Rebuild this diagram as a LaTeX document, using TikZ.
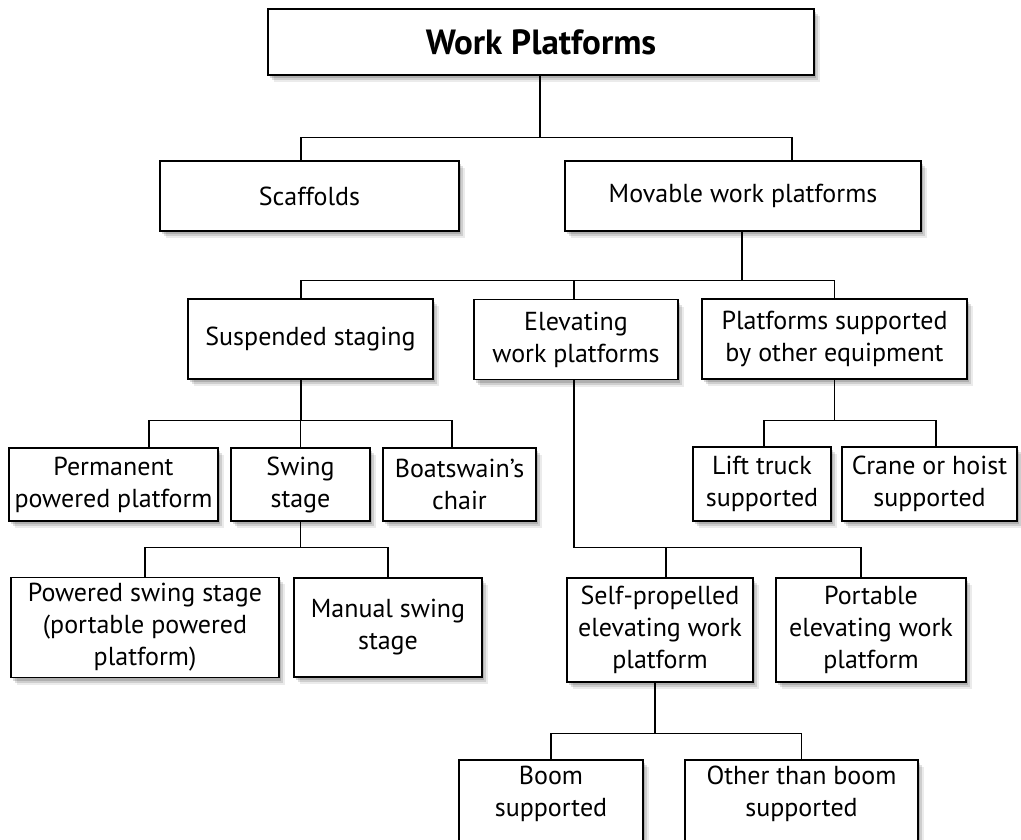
\documentclass[tikz,border=0pt]{standalone}
\usepackage{fontspec}
\setmainfont{PT Sans}
\usetikzlibrary{shadows}
\tikzstyle{box} = [rectangle, draw=black, line width=1.6pt, fill=white, align=center, inner xsep=2pt, inner ysep=6pt, font=\fontsize{26}{32}\selectfont, drop shadow={shadow xshift=6pt, shadow yshift=-7pt, opacity=0.08, fill=black}, drop shadow={shadow xshift=4pt, shadow yshift=-5pt, opacity=0.12, fill=black}, drop shadow={shadow xshift=2pt, shadow yshift=-3pt, opacity=0.15, fill=black}]
\tikzstyle{link} = [line width=1.3pt]

\begin{document}
\begin{tikzpicture}[x=1pt, y=-1pt]
	\useasboundingbox (0,0) rectangle (1021,839);
	
	% Nodes
	\node (wp) [box, minimum width=546pt, minimum height=66pt, font=\fontsize{35}{42}\selectfont\bfseries] at (541,42) {Work Platforms};
	\node (scaf) [box, minimum width=299pt, minimum height=70pt] at (309.5,196) {Scaffolds};
	\node (mov) [box, minimum width=356pt, minimum height=70pt] at (743,196) {Movable work platforms};
	\node (susp) [box, minimum width=245pt, minimum height=80pt] at (310.5,339) {Suspended staging};
	\node (elev) [box, minimum width=204pt, minimum height=80pt] at (576,339.5) {Elevating\\work platforms};
	\node (other) [box, minimum width=265pt, minimum height=80pt] at (834.5,339) {Platforms supported\\by other equipment};
	\node (perm) [box, minimum width=209pt, minimum height=73pt] at (113.5,484.5) {Permanent\\powered platform};
	\node (swing) [box, minimum width=139pt, minimum height=73pt] at (300.5,484.5) {Swing\\stage};
	\node (boat) [box, minimum width=153pt, minimum height=73pt] at (459.5,484.5) {Boatswain’s\\chair};
	\node (lift) [box, minimum width=138pt, minimum height=74pt] at (762,484) {Lift truck\\supported};
	\node (crane) [box, minimum width=175pt, minimum height=74pt] at (929.5,484) {Crane or hoist\\supported};
	\node (pss) [box, minimum width=268pt, minimum height=99pt] at (145,627.5) {Powered swing stage\\(portable powered\\platform)};
	\node (mss) [box, minimum width=188pt, minimum height=99pt] at (388,627.5) {Manual swing\\stage};
	\node (spe) [box, minimum width=186pt, minimum height=104pt] at (660,630) {Self-propelled\\elevating work\\platform};
	\node (pew) [box, minimum width=190pt, minimum height=104pt] at (871,630) {Portable\\elevating work\\platform};
	\node (boom) [box, anchor=north, minimum width=184pt, text depth=70pt] at (551,759) {Boom\\supported};
	\node (otb) [box, anchor=north, minimum width=233pt, text depth=70pt] at (801.5,759) {Other than boom\\supported};
	
	% Lines
	\draw [link] ([xshift=-1pt]wp.south) -- ++(0,62) -| ([xshift=-8.5pt]scaf.north);
	\draw [link] ([xshift=-1pt]wp.south) -- ++(0,62) -| ([xshift=49pt]mov.north);
	\draw [link] ([xshift=-1pt]mov.south) -- ++(0,49) -| ([xshift=-9.5pt]susp.north);
	\draw [link] ([xshift=-1pt]mov.south) -- ++(0,49) -| ([xshift=-2pt]elev.north);
	\draw [link] ([xshift=-1pt]mov.south) -- ++(0,49) -| (other.north);
	\draw [link] ([xshift=-9.5pt]susp.south) -- ++(0,41) -| ([xshift=35.5pt]perm.north);
	\draw [link] ([xshift=-9.5pt]susp.south) -- ++(0,41) -| (swing.north);
	\draw [link] ([xshift=-9.5pt]susp.south) -- ++(0,41) -| ([xshift=-7.5pt]boat.north);
	\draw [link] (swing.south) -- ++(0,26) -| (pss.north);
	\draw [link] (swing.south) -- ++(0,26) -| (mss.north);
	\draw [link] ([xshift=-2pt]elev.south) -- ++(0,167) -| ([xshift=6pt]spe.north);
	\draw [link] ([xshift=-2pt]elev.south) -- ++(0,167) -| ([xshift=-10pt]pew.north);
	\draw [link] (other.south) -- ++(0,41) -| ([xshift=2pt]lift.north);
	\draw [link] (other.south) -- ++(0,41) -| ([xshift=6.5pt]crane.north);
	\draw [link] ([xshift=-5pt]spe.south) -- ++(0,51) -| (boom.north);
	\draw [link] ([xshift=-5pt]spe.south) -- ++(0,51) -| (otb.north);
	
\end{tikzpicture}
\end{document}
